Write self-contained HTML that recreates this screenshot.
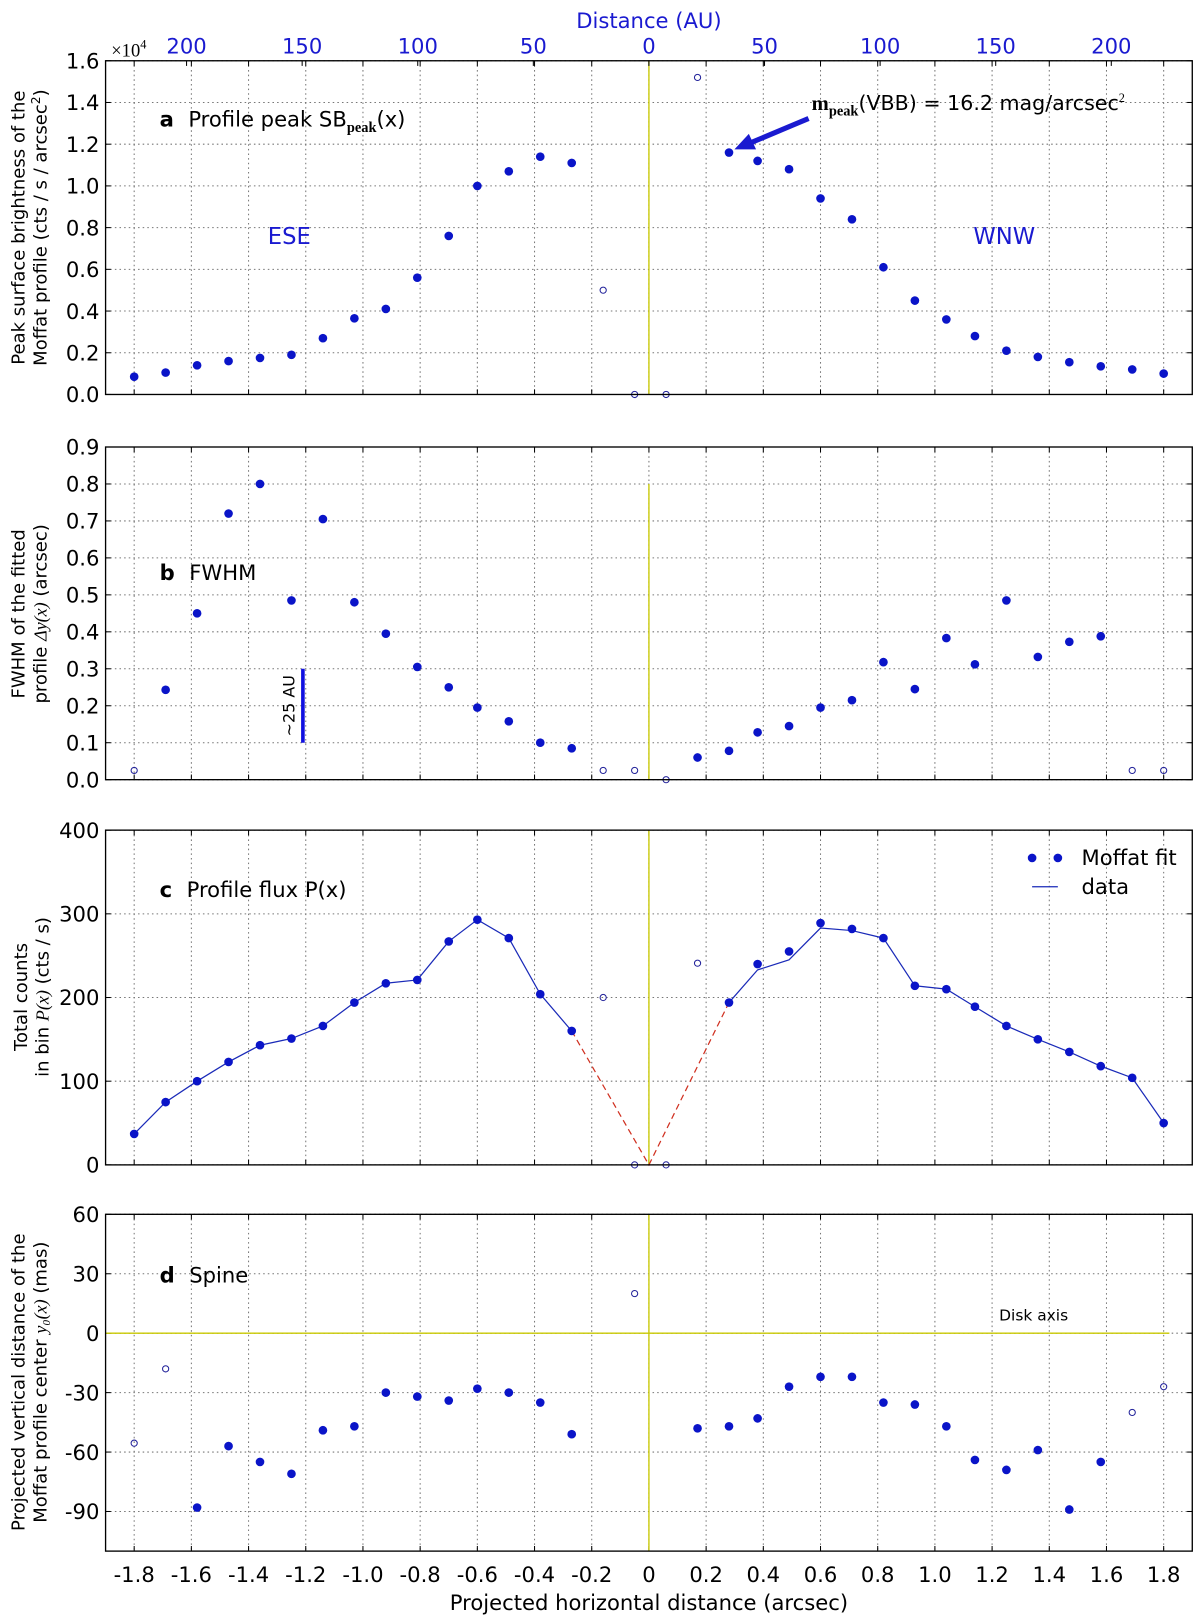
<!DOCTYPE html>
<html><head><meta charset="utf-8"><style>
html,body{margin:0;padding:0;background:#fff}
svg{display:block;font-family:"DejaVu Sans","Liberation Sans",sans-serif}
</style></head><body>
<svg id="fig" width="1200" height="1616" viewBox="0 0 1165 1569" preserveAspectRatio="none" xmlns="http://www.w3.org/2000/svg"></svg>
<script>
const xPos = [-1.8,-1.69,-1.58,-1.47,-1.36,-1.25,-1.14,-1.03,-0.92,-0.81,-0.70,-0.60,-0.49,-0.38,-0.27,-0.16,-0.05,0.06,0.17,0.28,0.38,0.49,0.60,0.71,0.82,0.93,1.04,1.14,1.25,1.36,1.47,1.58,1.69,1.80];
const peakVals = [0.085,0.105,0.14,0.16,0.175,0.19,0.27,0.365,0.41,0.56,0.76,1.0,1.07,1.14,1.11,0.50,0.0,0.0,1.52,1.16,1.12,1.08,0.94,0.84,0.61,0.45,0.36,0.28,0.21,0.18,0.155,0.135,0.12,0.10];
const peakOpen = [15,16,17,18];
const fwhmVals = [0.025,0.243,0.45,0.72,0.80,0.485,0.705,0.48,0.395,0.305,0.25,0.195,0.158,0.10,0.085,0.025,0.025,0.0,0.06,0.078,0.128,0.145,0.195,0.215,0.318,0.245,0.383,0.312,0.485,0.332,0.373,0.388,0.025,0.025];
const fwhmOpen = [0,15,16,17,32,33];
const fluxFit = [37,75,100,123,143,151,166,194,217,221,267,293,271,204,160,200,0,0,241,194,240,255,289,282,271,214,210,189,166,150,135,118,104,50];
const fluxOpen = [15,16,17,18];
const fluxData = [37,75,100,123,143,151,166,194,217,221,267,293,271,204,160,null,null,null,null,194,233,245,283,280,271,214,210,189,166,150,135,118,104,50];
const spineVals = [-55.5,-18,-88,-57,-65,-71,-49,-47,-30,-32,-34,-28,-30,-35,-51,null,20,null,-48,-47,-43,-27,-22,-22,-35,-36,-47,-64,-69,-59,-89,-65,-40,-27];
const spineOpen = [0,1,16,32,33];
const xTicks = [-1.8,-1.6,-1.4,-1.2,-1.0,-0.8,-0.6,-0.4,-0.2,0,0.2,0.4,0.6,0.8,1.0,1.2,1.4,1.6,1.8];
const auTicks = [-200,-150,-100,-50,0,50,100,150,200];
const peakTicks = [0,0.2,0.4,0.6,0.8,1.0,1.2,1.4,1.6];
const fwhmTicks = [0,0.1,0.2,0.3,0.4,0.5,0.6,0.7,0.8,0.9];
const fluxTicks = [0,100,200,300,400];
const spineTicks = [-90,-60,-30,0,30,60];

const NS="http://www.w3.org/2000/svg";
const svg=document.getElementById('fig');
const L=102.5,R=1157.5,X0=-1.9,X1=1.9;
const sx=v=>L+(v-X0)/(X1-X0)*(R-L);
function el(tag,attrs,parent){const e=document.createElementNS(NS,tag);for(const k in attrs)e.setAttribute(k,attrs[k]);(parent||svg).appendChild(e);return e;}
function txt(s,attrs,parent){const e=el('text',attrs,parent);e.textContent=s;return e;}
const BLUE='#0a14c8';
const TF=20.5;

function panel(name,top,bot,y0,y1,yticks,fmt){
  const g=el('g',{});
  
  
  const sy=v=>bot-(v-y0)/(y1-y0)*(bot-top);
  xTicks.forEach(t=>{el('line',{x1:sx(t),x2:sx(t),y1:top,y2:bot,stroke:'#777','stroke-width':1,'stroke-dasharray':'1.5,3'},g);
    el('line',{x1:sx(t),x2:sx(t),y1:bot,y2:bot-5,stroke:'#000'},g);el('line',{x1:sx(t),x2:sx(t),y1:top,y2:top+5,stroke:'#000'},g);});
  yticks.forEach(t=>{const y=sy(t);el('line',{x1:L,x2:R,y1:y,y2:y,stroke:'#777','stroke-width':1,'stroke-dasharray':'1.5,3'},g);
    el('line',{x1:L,x2:L+5,y1:y,y2:y,stroke:'#000'},g);el('line',{x1:R,x2:R-5,y1:y,y2:y,stroke:'#000'},g);
    const lab=txt(fmt(t),{x:L-6,y:y+7.5,'text-anchor':'end','font-size':TF,fill:'#000'},g);
    
    });
  return {g,sy,top,bot};
}
function frame(p){el('rect',{x:L,y:p.top,width:R-L,height:p.bot-p.top,fill:'none',stroke:'#000','stroke-width':1.3},p.g);}
function dots(p,vals,open,nm){
  vals.forEach((v,i)=>{if(v===null)return;
    const c=open.includes(i)?el('circle',{cx:sx(xPos[i]),cy:p.sy(v),r:3,fill:'none',stroke:'#22229a','stroke-width':1},p.g)
                          :el('circle',{cx:sx(xPos[i]),cy:p.sy(v),r:4.2,fill:BLUE},p.g);
    
    });
}
function ylabel(lines,x,cy,p){lines.forEach((s,k)=>{const t=txt('',{transform:`translate(${x+k*21},${cy}) rotate(-90)`,'text-anchor':'middle','font-size':17.5},p.g);t.innerHTML=s;});}
function title(p,letter,rest,y){const t=txt('',{x:155,y:y,'font-size':TF},p.g);t.innerHTML='<tspan font-weight="bold">'+letter+'</tspan><tspan dx="14">'+rest+'</tspan>';return t;}

// Panel a
const pa=panel('panel-a-peak',59,383,0,1.6,peakTicks,t=>t.toFixed(1));
el('line',{x1:sx(0),x2:sx(0),y1:59,y2:383,stroke:'#c8c800','stroke-width':1.3},pa.g);
dots(pa,peakVals,peakOpen,'peak');
frame(pa);
auTicks.forEach(a=>{const x=sx(a/123.7);el('line',{x1:x,x2:x,y1:59,y2:64,stroke:'#000'},pa.g);
  const t=txt(String(Math.abs(a)),{x:x,y:52,'text-anchor':'middle','font-size':TF,fill:'#1a1ad0'},pa.g);
  });
txt('Distance (AU)',{x:630,y:27,'text-anchor':'middle','font-size':TF,fill:'#1a1ad0'},pa.g);
const mult=txt('',{x:108,y:55,'font-size':18,'font-family':'Liberation Serif,serif'},pa.g);mult.innerHTML='×10<tspan dy="-8" font-size="12">4</tspan>';
const la=txt('',{x:155,y:123,'font-size':TF},pa.g);la.innerHTML='<tspan font-weight="bold">a</tspan><tspan dx="14">Profile peak SB</tspan><tspan dy="5" font-size="14" font-family="Liberation Serif" font-weight="bold">peak</tspan><tspan dy="-5">(x)</tspan>';

txt('ESE',{x:260,y:237,'font-size':22,fill:'#1a1ad0'},pa.g);
txt('WNW',{x:945,y:237,'font-size':22,fill:'#1a1ad0'},pa.g);
const ann=txt('',{x:788,y:107,'font-size':20},pa.g);ann.innerHTML='<tspan font-family="Liberation Serif" font-weight="bold">m</tspan><tspan dy="5" font-size="14" font-family="Liberation Serif" font-weight="bold">peak</tspan><tspan dy="-5">(VBB) = 16.2 mag/arcsec</tspan><tspan dy="-8" font-size="12" font-family="Liberation Serif">2</tspan>';

el('line',{x1:785,y1:115,x2:728,y2:139,stroke:'#1a1ad0','stroke-width':5},pa.g);
el('polygon',{points:'713,145 727,130 734,145',fill:'#1a1ad0'},pa.g);
ylabel(['Peak surface brightness of the','Moffat profile (cts / s / arcsec<tspan dy="-6" font-size="12">2</tspan><tspan dy="6">)</tspan>'],24,221,pa);

// Panel b
const pb=panel('panel-b-fwhm',434,757,0,0.9,fwhmTicks,t=>t.toFixed(1));
el('line',{x1:sx(0),x2:sx(0),y1:pb.sy(0.8),y2:757,stroke:'#c8c800','stroke-width':1.3},pb.g);
dots(pb,fwhmVals,fwhmOpen,'fwhm');
frame(pb);
title(pb,'b','FWHM',563);
el('line',{x1:sx(-1.21),x2:sx(-1.21),y1:pb.sy(0.1),y2:pb.sy(0.3),stroke:'#1010e0','stroke-width':3.5},pb.g);
txt('~25 AU',{transform:`translate(${sx(-1.21)-8},${pb.sy(0.2)}) rotate(-90)`,'text-anchor':'middle','font-size':15.5},pb.g);
ylabel(['FWHM of the fitted','profile <tspan font-family="Liberation Serif" font-style="italic">Δy(x)</tspan> (arcsec)'],24,596,pb);

// Panel c
const pc=panel('panel-c-flux',806,1131,0,400,fluxTicks,t=>String(t));
el('line',{x1:sx(0),x2:sx(0),y1:806,y2:1131,stroke:'#c8c800','stroke-width':1.3},pc.g);
function dataPath(a,b){let d='';for(let i=a;i<=b;i++){d+=(i===a?'M':'L')+sx(xPos[i])+','+pc.sy(fluxData[i]);}return d;}
const dl1=el('path',{d:dataPath(0,14),fill:'none',stroke:'#1a2ab8','stroke-width':1.2},pc.g);
const dl2=el('path',{d:dataPath(19,33),fill:'none',stroke:'#1a2ab8','stroke-width':1.2},pc.g);
el('path',{d:`M${sx(xPos[14])},${pc.sy(fluxData[14])}L${sx(0)},${pc.sy(0)}L${sx(xPos[19])},${pc.sy(fluxData[19])}`,fill:'none',stroke:'#d03020','stroke-width':1.2,'stroke-dasharray':'6,4'},pc.g);
dots(pc,fluxFit,fluxOpen,'flux');
frame(pc);
title(pc,'c','Profile flux P(x)',871);
const leg=el('g',{},pc.g);
el('circle',{cx:1002,cy:833,r:4.2,fill:BLUE},leg);el('circle',{cx:1027,cy:833,r:4.2,fill:BLUE},leg);
txt('Moffat fit',{x:1050,y:840,'font-size':TF},leg);
el('line',{x1:1002,x2:1027,y1:861,y2:861,stroke:'#1a2ab8','stroke-width':1.2},leg);
txt('data',{x:1050,y:868,'font-size':TF},leg);
ylabel(['Total counts','in bin <tspan font-family="Liberation Serif" font-style="italic">P(x)</tspan> (cts / s)'],26,968,pc);

// Panel d
const pd=panel('panel-d-spine',1179,1506,-110,60,spineTicks,t=>String(t));
el('line',{x1:sx(0),x2:sx(0),y1:1179,y2:1506,stroke:'#c8c800','stroke-width':1.3},pd.g);
el('line',{x1:sx(-1.9),x2:sx(1.82),y1:pd.sy(0),y2:pd.sy(0),stroke:'#c8c800','stroke-width':1.3},pd.g);
dots(pd,spineVals,spineOpen,'spine');
frame(pd);
title(pd,'d','Spine',1245);
txt('Disk axis',{x:970,y:1282,'font-size':15},pd.g);
ylabel(['Projected vertical distance of the','Moffat profile center <tspan font-family="Liberation Serif" font-style="italic">y₀(x)</tspan> (mas)'],24,1342,pd);
xTicks.forEach(t=>{const s=t===0?'0':t.toFixed(1);const e=txt(s,{x:sx(t),y:1536,'text-anchor':'middle','font-size':TF},svg);
  });
const xt=txt('Projected horizontal distance (arcsec)',{x:630,y:1563,'text-anchor':'middle','font-size':TF});


</script>
</body></html>
